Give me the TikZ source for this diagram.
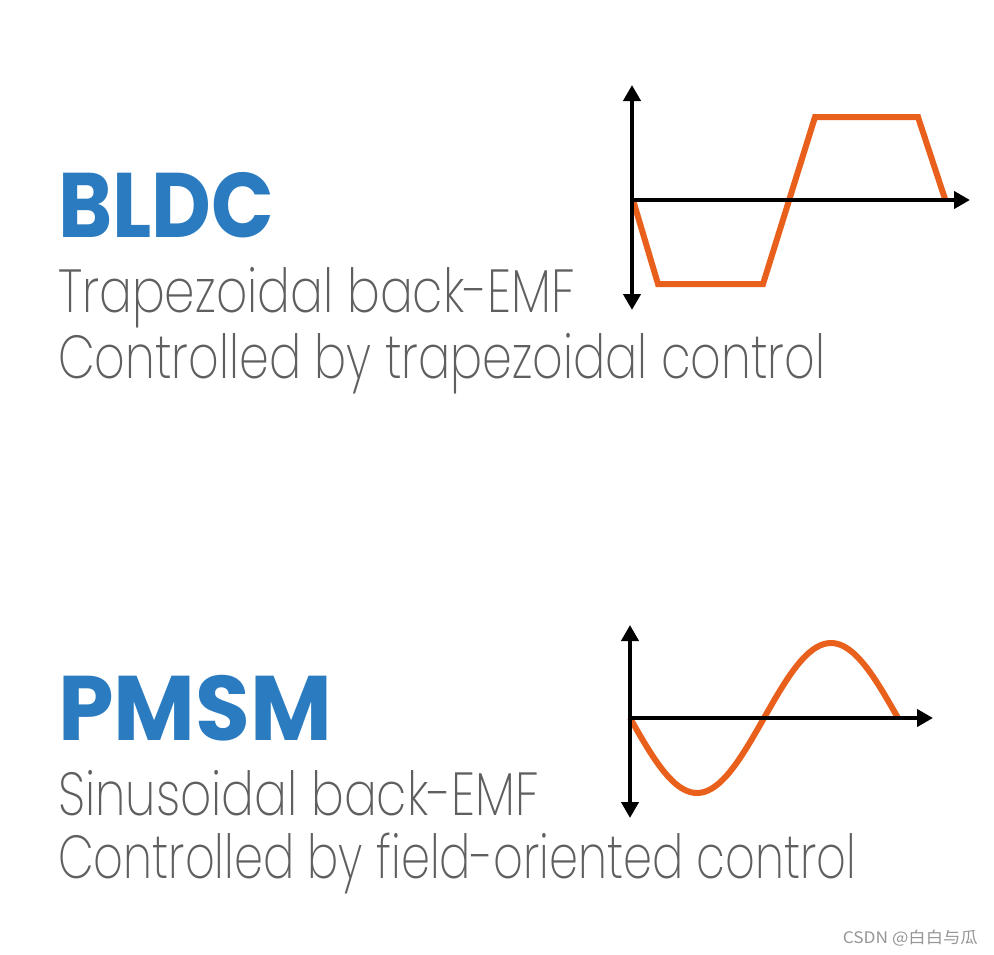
\documentclass[tikz,border=0pt]{standalone}
\usepackage{fontspec}
\usepackage{graphicx}
\setmainfont{Poppins}
\newfontfamily\lightfont{Poppins ExtraLight}
\newfontfamily\boldfont{Poppins Bold}
\newfontfamily\cjkfont{Noto Sans CJK SC}
\usetikzlibrary{arrows.meta}
\definecolor{titleblue}{RGB}{42,123,191}
\definecolor{waveorange}{RGB}{232,96,28}
\definecolor{textgray}{RGB}{95,95,95}
\definecolor{markgray}{RGB}{150,150,150}
\newcommand{\fitw}[2]{\resizebox{#1bp}{\height}{#2}}
\tikzset{
  title/.style={anchor=base west, inner sep=0pt, text=titleblue, font=\boldfont\fontsize{92}{92}\selectfont},
  desc/.style={anchor=base west, inner sep=0pt, text=textgray, font=\lightfont\fontsize{61}{61}\selectfont},
  axis/.style={line width=4bp, {Triangle[length=16bp,width=17bp]}-{Triangle[length=16bp,width=17bp]}},
  haxis/.style={line width=4bp, -{Triangle[length=16bp,width=17bp]}},
  wave/.style={line width=6bp, draw=waveorange, line join=miter},
}
\begin{document}
\begin{tikzpicture}[x=1bp,y=-1bp]
\path[use as bounding box, fill=white] (0,0) rectangle (994,955);
% texts
\node[title] (bldc) at (58,237) {\fitw{216}{BLDC}};
\node[desc] (bldc1) at (58,312) {\fitw{517}{Trapezoidal back-EMF}};
\node[desc] (bldc2) at (58,378) {\fitw{767}{Controlled by trapezoidal control}};
\node[title] (pmsm) at (58,740) {\fitw{274}{PMSM}};
\node[desc] (pmsm1) at (58,815) {\fitw{481}{Sinusoidal back-EMF}};
\node[desc] (pmsm2) at (58,878) {\fitw{798}{Controlled by field-oriented control}};
% top plot
\coordinate (t0) at (632,200);
\coordinate (ttop) at (632,85);
\coordinate (tbot) at (632,310);
\coordinate (tright) at (970,200);
\draw[wave] (633,200) -- (658,284) -- (763,284) -- (815,117) -- (918,117) -- (945,199);
\draw[axis] (tbot) -- (ttop);
\draw[haxis] (t0) -- (tright);
% bottom plot
\coordinate (b0) at (630,718);
\coordinate (btop) at (630,625);
\coordinate (bbot) at (630,818);
\coordinate (bright) at (933,718);
\draw[wave] plot[domain=0:268, samples=80, smooth] ({630+\x}, {718+75*sin(\x*1.343284)});
\draw[axis] (bbot) -- (btop);
\draw[haxis] (b0) -- (bright);
% watermark
\node[anchor=base east, inner sep=0pt, text=markgray, font=\cjkfont\fontsize{16}{16}\selectfont] (mark) at (978,943) {\fitw{135}{CSDN @白白与瓜}};
\end{tikzpicture}
\end{document}
